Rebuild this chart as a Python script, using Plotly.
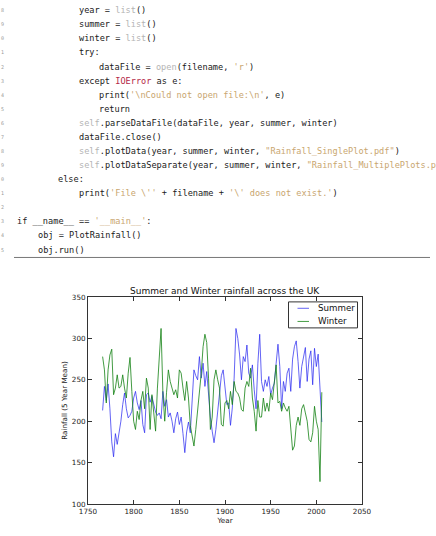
import plotly.graph_objects as go

# ---------------- data ----------------
years = list(range(1766, 2007, 2))
summer = [213, 242, 225, 245, 215, 175, 157, 185, 172, 186,
          200, 220, 234, 215, 204, 207, 212, 228, 236, 222,
          214, 225, 196, 186, 232, 234, 223, 230, 222, 211,
          207, 210, 203, 236, 218, 226, 205, 210, 200, 186,
          203, 211, 196, 205, 185, 162, 187, 199, 186, 223,
          262, 255, 250, 278, 252, 270, 242, 260, 228, 205,
          188, 174, 190, 212, 226, 255, 262, 240, 220, 222,
          195, 216, 252, 312, 300, 280, 250, 278, 272, 292,
          258, 252, 268, 238, 215, 270, 305, 248, 236, 250,
          242, 254, 232, 240, 246, 270, 293, 266, 215, 248,
          236, 258, 264, 236, 275, 290, 297, 272, 240, 266,
          280, 289, 248, 275, 285, 244, 288, 266, 281, 238,
          199]
winter = [278, 262, 222, 262, 280, 287, 232, 240, 256, 240,
          242, 256, 240, 228, 258, 277, 236, 200, 190, 212,
          202, 225, 236, 215, 252, 240, 190, 232, 210, 188,
          240, 280, 312, 235, 200, 235, 262, 248, 238, 232,
          238, 228, 262, 258, 240, 225, 248, 228, 195, 180,
          170, 190, 212, 240, 258, 290, 305, 295, 252, 190,
          205, 250, 262, 250, 240, 196, 194, 222, 225, 215,
          236, 220, 248, 236, 234, 228, 214, 212, 240, 248,
          242, 264, 228, 212, 188, 225, 205, 205, 228, 212,
          222, 212, 234, 226, 250, 268, 222, 224, 212, 222,
          216, 212, 218, 185, 165, 170, 195, 205, 195, 215,
          220, 210, 200, 178, 175, 186, 218, 200, 190, 127,
          235]
series_names = ["Summer", "Winter"]
x_ticks = [1750, 1800, 1850, 1900, 1950, 2000, 2050]
y_ticks = [100, 150, 200, 250, 300, 350]

# code listing shown above the chart
DARK = "#1a1a1a"
GRAY = "#b4b4b4"
STR = "#c9a66f"
RED = "#b42848"
code_lines = [
    (28, 3, [("year = ", DARK), ("list", GRAY), ("()", DARK)]),
    (29, 3, [("summer = ", DARK), ("list", GRAY), ("()", DARK)]),
    (30, 3, [("winter = ", DARK), ("list", GRAY), ("()", DARK)]),
    (31, 3, [("try:", DARK)]),
    (32, 4, [("dataFile = ", DARK), ("open", GRAY), ("(filename, ", DARK), ("'r'", STR), (")", DARK)]),
    (33, 3, [("except ", DARK), ("IOError", RED), (" as e:", DARK)]),
    (34, 4, [("print(", DARK), ("'\\nCould not open file:\\n'", STR), (", e)", DARK)]),
    (35, 4, [("return", DARK)]),
    (36, 3, [("self", GRAY), (".parseDataFile(dataFile, year, summer, winter)", DARK)]),
    (37, 3, [("dataFile.close()", DARK)]),
    (38, 3, [("self", GRAY), (".plotData(year, summer, winter, ", DARK), ("\"Rainfall_SinglePlot.pdf\"", STR), (")", DARK)]),
    (39, 3, [("self", GRAY), (".plotDataSeparate(year, summer, winter, ", DARK), ("\"Rainfall_MultiplePlots.pdf\"", STR), (")", DARK)]),
    (40, 2, [("else:", DARK)]),
    (41, 3, [("print(", DARK), ("'File \\''", STR), (" + filename + ", DARK), ("'\\' does not exist.'", STR), (")", DARK)]),
    (42, 0, []),
    (43, 0, [("if __name__ == ", DARK), ("'__main__'", STR), (":", DARK)]),
    (44, 1, [("obj = PlotRainfall()", DARK)]),
    (45, 1, [("obj.run()", DARK)]),
]

# ---------------- layout geometry ----------------
W, H = 436, 536
L, R, T, B = 88, 362, 297, 508


def px(x):
    return (x - L) / (R - L)


def py(y):
    return (B - y) / (B - T)


colors = ["rgba(40,40,240,0.72)", "rgba(20,130,20,0.8)"]

fig = go.Figure()
for name, vals, col in zip(series_names, [summer, winter], colors):
    fig.add_trace(go.Scatter(x=years, y=vals, mode="lines", name=name,
                             line=dict(color=col, width=1), showlegend=False))

annotations = []
shapes = []
y0, dy = 4.7, 14.35
x0, indent = 15.0, 20.5
for i, (num, lvl, toks) in enumerate(code_lines):
    yy = y0 + i * dy
    annotations.append(dict(
        text=str(num % 10), x=px(-1), y=py(yy), xref="paper", yref="paper",
        xanchor="left", yanchor="middle", showarrow=False,
        font=dict(family="DejaVu Sans Mono", size=5, color="#999")))
    if not toks:
        continue
    html = "".join(f'<span style="color:{c}">{t}</span>' for t, c in toks)
    annotations.append(dict(
        text=html, x=px(x0 + lvl * indent), y=py(yy), xref="paper", yref="paper",
        xanchor="left", yanchor="middle", showarrow=False,
        font=dict(family="DejaVu Sans Mono", size=8.6, color=DARK)))

shapes.append(dict(type="line", xref="paper", yref="paper",
                   x0=px(14), x1=px(430), y0=py(256.7), y1=py(256.7),
                   line=dict(color="#777", width=1)))

# title
annotations.append(dict(
    text="Summer and Winter rainfall across the UK", x=0.5, y=py(291),
    xref="paper", yref="paper", xanchor="center", yanchor="middle", showarrow=False,
    font=dict(family="DejaVu Sans", size=9.0, color="#111")))

# legend box (drawn to match the compact matplotlib legend)
shapes.append(dict(type="rect", xref="paper", yref="paper",
                   x0=px(288.5), x1=px(357.5), y0=py(302), y1=py(328.5),
                   line=dict(color="#333", width=1), fillcolor="white", layer="above"))
for k, (name, col) in enumerate(zip(series_names, colors)):
    ly = 308.5 + k * 13.4
    shapes.append(dict(type="line", xref="paper", yref="paper",
                       x0=px(297.5), x1=px(309), y0=py(ly), y1=py(ly),
                       line=dict(color=col, width=1), layer="above"))
    annotations.append(dict(text=name, x=px(316), y=py(ly), xref="paper", yref="paper",
                            xanchor="left", yanchor="middle", showarrow=False,
                            font=dict(family="DejaVu Sans", size=8.7, color="#111")))

fig.update_layout(
    width=W, height=H,
    margin=dict(l=L, r=W - R, t=T, b=H - B, pad=0),
    paper_bgcolor="white", plot_bgcolor="white",
    showlegend=False,
    annotations=annotations,
    shapes=shapes,
    font=dict(family="DejaVu Sans", size=7.2, color="#222"),
)
fig.update_xaxes(range=[1750, 2050], tickvals=x_ticks,
                 ticks="inside", ticklen=4, tickcolor="#333",
                 showline=True, linecolor="#333", linewidth=1, mirror="ticks",
                 showgrid=False, zeroline=False,
                 tickfont=dict(size=7.2, color="#222"),
                 title=dict(text="Year", standoff=3, font=dict(size=7.2, color="#222")))
fig.update_yaxes(range=[100, 350], tickvals=y_ticks,
                 ticks="inside", ticklen=4, tickcolor="#333",
                 showline=True, linecolor="#333", linewidth=1, mirror="ticks",
                 showgrid=False, zeroline=False,
                 tickfont=dict(size=7.2, color="#222"),
                 title=dict(text="Rainfall (5 Year Mean)", standoff=3, font=dict(size=7.2, color="#222")))

fig.write_html("out.html")
